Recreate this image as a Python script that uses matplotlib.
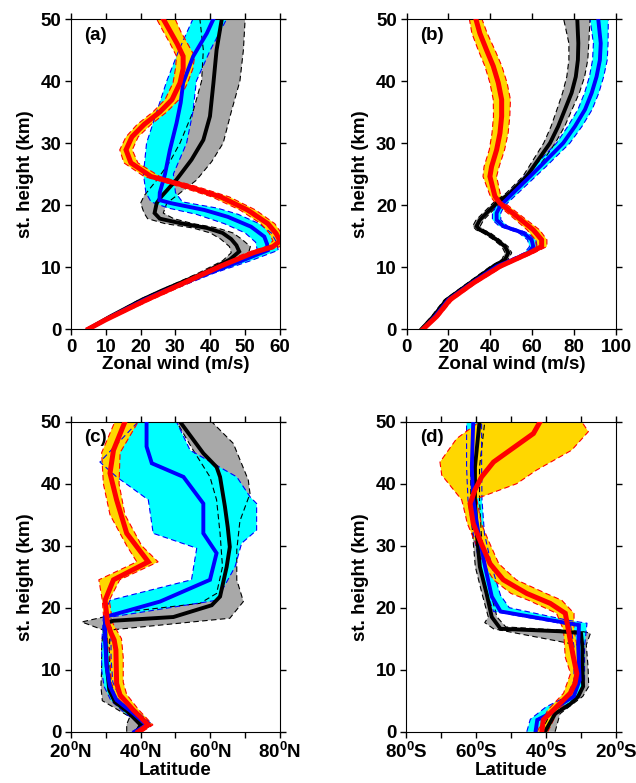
import numpy as np
import matplotlib
matplotlib.use("Agg")
import matplotlib.pyplot as plt

plt.rcParams['font.family'] = ['Liberation Sans', 'DejaVu Sans']
plt.rcParams['font.weight'] = 'bold'
plt.rcParams['mathtext.fontset'] = 'custom'
plt.rcParams['mathtext.rm'] = 'Liberation Sans:bold'
plt.rcParams['mathtext.it'] = 'Liberation Sans:bold'
plt.rcParams['mathtext.bf'] = 'Liberation Sans:bold'
plt.rcParams['mathtext.default'] = 'rm'

# ---------------- Panel (a): zonal wind (m/s) ----------------
A_H_K = [0, 2, 4.7, 6.3, 9, 11.2, 12.5, 13.5, 14.5, 15.5, 16.3, 17, 17.8, 18.7, 20.3, 21.4, 24.1, 27.3, 30.5, 34.3, 39.7, 45, 50]
A_K = [5, 11.2, 20.3, 26.5, 38, 45.6, 48.3, 47.5, 46, 43.5, 39, 32, 25.5, 24, 24.6, 26, 30.3, 34.6, 38, 39.9, 40.9, 41.8, 43.3]
A_H_KB = [0, 4.7, 9, 11, 12.3, 13.3, 14.5, 15.5, 16.3, 17, 17.8, 18.7, 20.3, 21.5, 24, 27, 30, 35, 40, 45, 50]
A_K_LO = [4.5, 19.5, 36.5, 43.5, 46, 45.5, 43, 40, 35, 27, 22, 21, 20, 21, 24.6, 28.4, 31.3, 35, 37.5, 38, 37]
A_K_HI = [5.5, 21.5, 39.5, 48, 51, 51.5, 49, 46.5, 42, 35, 29.5, 26.5, 27.5, 30.3, 36, 40.4, 43.7, 46, 48.5, 49.5, 50]

A_H_B = [0, 2, 4.7, 6.3, 9, 11, 12.7, 13.7, 14.9, 16.5, 18.1, 19.2, 20.3, 20.8, 22, 25, 28.9, 33.2, 36.5, 39.7, 44, 47.7, 50]
A_B = [5, 11.5, 21, 27.5, 39.5, 49, 56.5, 56.3, 55.5, 51.7, 45, 38.3, 28.7, 25.4, 25.5, 27, 28.4, 30.3, 31.5, 32.2, 35.1, 39, 40.9]
A_H_BB = [0, 4.7, 9, 11, 12.7, 14, 15.5, 17, 18.5, 19.5, 20.5, 22, 25, 30, 35, 40, 45, 50]
A_B_LO = [4.5, 20, 38.5, 48, 53.5, 53, 50, 44, 36, 28, 23, 21.5, 20.8, 21.7, 24.6, 27.5, 31, 35]
A_B_HI = [5.5, 22, 41, 51.5, 59.5, 59, 57.5, 54, 48, 42, 32, 30, 29.4, 33.2, 35, 36, 40, 44.7]

A_H_R = [0, 1.5, 3, 4.7, 7.4, 10.1, 12.3, 13.3, 14.2, 15.4, 17, 19.2, 21.3, 23, 24.6, 26.8, 28.9, 31, 33, 35, 37, 39.7, 42, 44, 46, 48, 50]
A_R = [5, 10, 15.5, 21.7, 32.3, 42.8, 52.3, 58, 60, 58.9, 56.5, 50.7, 43, 33.5, 23, 17.2, 15.8, 17.5, 21, 25.5, 29, 31.3, 32.2, 32.2, 30.5, 28.5, 26.5]
A_R_LO = [4.5, 9.3, 14.5, 20.5, 30.8, 41, 50.5, 56, 58, 57, 54.5, 48.5, 40.5, 31, 21, 15.2, 14, 15.8, 19, 23.5, 27, 29.3, 30, 30.3, 28.5, 26.5, 24.6]
A_R_HI = [5.5, 10.8, 16.5, 23, 33.8, 44.5, 54.5, 60, 61, 60.5, 58.5, 53, 45.5, 36, 25.5, 19.2, 17.6, 19.3, 23, 27.5, 31, 33.5, 35, 35.5, 33.5, 31.5, 29.9]

# ---------------- Panel (b): zonal wind (m/s) ----------------
B_H_K = [0, 2, 4.7, 7.4, 10.1, 11.2, 12.3, 13.3, 14.4, 15.5, 16, 16.6, 17.6, 18.7, 20.3, 21.9, 24.6, 27.3, 30, 32.7, 35.4, 38.1, 40.7, 43.4, 46.1, 50]
B_K = [7.2, 12.7, 19.1, 30.2, 41.4, 47, 48.6, 47, 43, 38.2, 35, 33.4, 35, 38.2, 43, 49.4, 57.3, 62.9, 68.5, 72.4, 75.6, 78.8, 80.8, 81.8, 82, 81.5]
B_K_LO = [6.5, 11.8, 18, 29, 40, 45.5, 47, 45.5, 41.5, 36.5, 33.2, 31.6, 33.2, 36.5, 41.2, 47.5, 55.5, 60.5, 65.5, 69, 71.8, 74.5, 76.5, 77.5, 77.5, 75]
B_K_HI = [7.9, 13.6, 20.2, 31.4, 42.8, 48.5, 50.2, 48.5, 44.5, 40, 36.8, 35.2, 36.8, 40, 44.8, 51.3, 59.5, 65.5, 71, 75.5, 79, 82.5, 85, 86.5, 87, 87.6]

B_H_B = [0, 2, 4.7, 7.4, 10.1, 11.2, 12.3, 13.3, 14.4, 15.5, 16.6, 17.6, 18.7, 19.8, 20.9, 23, 26.2, 30, 32.7, 35.4, 38.1, 40.7, 43.4, 46.1, 50]
B_B = [8, 13.5, 19.9, 31, 43, 50.9, 58.1, 60.5, 59.7, 55.7, 46.2, 43, 43, 44.6, 47.8, 54.1, 63.7, 74.8, 80.4, 85.2, 88.4, 90.7, 92.3, 92.7, 91.5]
B_B_LO = [7.3, 12.6, 18.8, 29.8, 41.6, 49.2, 56.3, 58.7, 57.7, 53.6, 44.2, 41, 41, 42.6, 45.6, 51.6, 60.8, 71.6, 77, 81.8, 85, 87.3, 88.8, 89.2, 87.6]
B_B_HI = [8.7, 14.4, 21, 32.2, 44.4, 52.6, 59.9, 62.3, 61.7, 57.8, 48.2, 45, 45, 46.6, 50, 56.6, 66.6, 78, 83.8, 88.6, 91.8, 94.1, 95.8, 96.2, 96.3]

B_H_R = [0, 2, 4.7, 7.4, 10.1, 12.3, 13.3, 14.4, 16, 18.2, 20.3, 21.4, 24.6, 26.2, 28.9, 31.6, 34.3, 37, 39.7, 42.4, 45, 47.7, 50]
B_R = [8, 14.3, 20.7, 31.8, 44.6, 58.9, 64.5, 64.5, 60.5, 52.5, 44.6, 42.2, 39.8, 40.6, 43, 44.6, 45.4, 45.4, 43.8, 41.4, 38.2, 35, 33.1]
B_R_LO = [7.3, 13.3, 19.5, 30.5, 43, 56.5, 62, 61.5, 57.5, 50, 42.5, 40, 36.5, 37, 39.5, 40.8, 41.5, 41.4, 39.8, 37.4, 34.2, 31.2, 30]
B_R_HI = [8.7, 15.3, 22, 33.2, 46.2, 61, 67, 67, 63.5, 55, 47, 45, 43, 44.2, 46.8, 48.5, 49.3, 49.6, 48, 45.5, 42.2, 38.5, 36]

# ---------------- Panel (c): latitude (deg N) ----------------
C_H_K = [0, 1.1, 3.2, 4.8, 6.7, 10.5, 14.8, 17.5, 17.9, 18.5, 20.4, 21.8, 26.6, 29.8, 33, 36.3, 41.1, 42.7, 44.9, 50]
C_K = [38.9, 40, 36.3, 32.6, 31, 30.3, 29.9, 29.8, 32.2, 49.4, 60.4, 62.8, 64.7, 65.6, 65, 64.2, 62.8, 61.8, 58, 51.3]
C_H_KLO = [0, 1.2, 2.4, 5, 7.3, 10, 14, 16.4, 17.7, 18.5, 19.1, 20.7, 22.3, 26.6, 32, 37.4, 41.1, 45.4, 50]
C_K_LO = [36, 36, 36.9, 29, 28.6, 28.8, 28.8, 29.3, 23.1, 29.3, 32.2, 57, 61.8, 63.5, 62.8, 61.8, 59.9, 55.1, 50.3]
C_H_KHI = [0, 1.5, 5, 8, 12, 16.4, 18.3, 21, 24.5, 29.3, 34, 38.4, 40.6, 46.5, 50]
C_K_HI = [38, 41, 33, 31.5, 31, 31.2, 65.6, 69.5, 67.6, 67.6, 68.5, 71.4, 70.9, 66.6, 60.4]

C_H_B = [0, 1.1, 3.2, 5.1, 7.3, 10.5, 14.8, 18.5, 21, 24.5, 28.8, 32, 36.8, 41.1, 43.3, 46, 50]
C_B = [38.4, 41.7, 37.4, 33.1, 31.2, 30.2, 29.8, 29.8, 45.6, 59.9, 61.8, 58, 58, 52.3, 43.2, 41.7, 41.7]
C_H_BLO = [0, 1, 3, 5, 7.3, 10, 14, 18.5, 21.2, 24.5, 29.6, 32, 37.4, 41.1, 43.5, 50]
C_B_LO = [37.5, 40.5, 35.5, 31.5, 29.5, 28.8, 28.8, 29.3, 31.2, 54.6, 56.1, 43.6, 42.2, 33.1, 28.3, 39.3]
C_H_BHI = [0, 1.1, 3.5, 5.5, 8, 12, 16, 18.5, 21.2, 26.6, 30.4, 32.5, 36.8, 37.9, 41.1, 45.4, 50]
C_B_HI = [39.5, 43.4, 38.5, 34, 32, 31.5, 31.5, 31.5, 61.8, 67.1, 69, 73.3, 73.3, 71.4, 67.6, 54.2, 50.3]

C_H_R = [0, 1.1, 3.5, 5.9, 7.8, 10.5, 13.2, 14.8, 15.9, 17.5, 21.2, 24.5, 27.4, 32, 37.4, 41.7, 45.4, 50]
C_R = [39.3, 42.2, 37.9, 34.1, 33.1, 33, 32.9, 32.4, 31.5, 30.5, 29.8, 32.2, 42.2, 36, 33.1, 31.2, 32.2, 35.5]
C_H_RLO = [0, 1.1, 3.5, 6, 8, 12, 15, 17.5, 21.2, 24.5, 27.4, 30, 35, 40, 45, 50]
C_R_LO = [38, 41, 36.5, 32.5, 31.5, 31.2, 30.5, 29.5, 29, 28, 38.9, 36, 31.2, 29.3, 28.8, 32.6]
C_H_RHI = [0, 1.1, 3.5, 6, 8, 12, 15, 17.5, 21.2, 24.5, 27.4, 30, 35, 40, 45, 50]
C_R_HI = [40.5, 43.5, 39.5, 36, 35, 35, 34.5, 32, 31, 34, 45, 40.3, 35.5, 33.8, 34.1, 39.3]

# ---------------- Panel (d): latitude (deg, negative = S) ----------------
D_H_K = [0, 2.9, 4.5, 5.7, 7.3, 10.5, 13.7, 15.9, 16.2, 16.6, 18.5, 22.3, 26.6, 32, 37.4, 42.7, 50]
D_K = [-40.3, -37.4, -33, -30.8, -29.4, -29.6, -29.6, -30, -36, -53, -55.5, -57, -58.9, -59.8, -60.3, -60.3, -59]
D_H_KLO = [0, 2.9, 5.7, 7.3, 10.5, 14, 16.6, 17.6, 18.5, 22.3, 26.6, 32, 37.4, 42.7, 50]
D_K_LO = [-41.5, -38.7, -32.2, -30.8, -31, -31, -55, -57.5, -56.5, -58.3, -60.2, -61, -61.5, -61.5, -60.5]
D_H_KHI = [0, 2.9, 5.7, 7.3, 10.5, 14, 15.9, 16.2, 16.9, 18.5, 22.3, 26.6, 32, 37.4, 42.7, 50]
D_K_HI = [-37.4, -36, -29.5, -27.8, -28, -28.5, -27.3, -30, -51.5, -54, -55.8, -57.6, -58.5, -59, -59, -57.5]

D_H_B = [0, 1.9, 2.9, 4, 5.7, 8.3, 13.7, 17.2, 19.4, 21.8, 26.6, 32, 37.4, 42.7, 50]
D_B = [-43, -42.5, -39, -37, -32.1, -30.4, -30.8, -30.6, -53, -55.5, -57.4, -59.3, -60.8, -61.2, -60.8]
D_H_BLO = [0, 2, 4, 5.7, 8.3, 13.7, 17.2, 19.4, 21.8, 26.6, 32, 37.4, 42.7, 50]
D_B_LO = [-45.5, -44.5, -40, -34, -32, -32, -33, -55, -56.5, -58.8, -60.8, -62.3, -62.7, -62.7]
D_H_BHI = [0, 2, 4, 5.7, 8.3, 13.7, 17.5, 18, 20, 22, 26.6, 32, 37.4, 42.7, 50]
D_B_HI = [-41, -40.5, -35, -30.5, -29, -29, -28.3, -34, -50.5, -53, -55.5, -57.6, -58.3, -58.4, -58.4]

D_H_R = [0, 1.9, 3.5, 6.2, 7.8, 9.4, 12.1, 14.8, 16.4, 19.1, 20.7, 22.3, 24.5, 27.1, 30.9, 33.6, 36.8, 39, 41.1, 43.5, 45.4, 48.1, 50]
D_R = [-41.2, -40.8, -37.9, -33.1, -31.7, -31.2, -32.2, -33.1, -33.6, -34.5, -38.8, -45.5, -52.2, -56, -58.9, -60.8, -61.7, -60.3, -58.4, -55, -50.3, -43.6, -41.7]
D_H_RLO = [0, 3.5, 6.2, 9.4, 12, 16.4, 19.1, 21.2, 22.3, 24.5, 27.1, 30.9, 33.6, 36.3, 37.4, 41.4, 43.5, 47.3, 50]
D_R_LO = [-42.5, -39.5, -35, -33, -34.5, -35, -37, -45, -50, -55, -57.8, -60.5, -62.5, -63.6, -64.1, -69.8, -70.3, -65.5, -59]
D_H_RHI = [0, 3.5, 6.2, 9.4, 12, 16.4, 19.1, 21.2, 22.3, 24.5, 27.1, 30.9, 33.6, 37.6, 40, 42.2, 45.4, 48.4, 50]
D_R_HI = [-39.5, -36.5, -31.5, -29.8, -30.5, -32, -32, -35.5, -40, -48.5, -53.5, -56.5, -58.5, -59.8, -48.4, -42.7, -32.7, -27.9, -29.8]

Y_TICKS = [0, 10, 20, 30, 40, 50]
A_XTICKS = [0, 10, 20, 30, 40, 50, 60]
B_XTICKS = [0, 20, 40, 60, 80, 100]
C_XTICKS = [20, 30, 40, 50, 60, 70, 80]
C_XLABELS = ['20$^{0}$N', '', '40$^{0}$N', '', '60$^{0}$N', '', '80$^{0}$N']
D_XTICKS = [-80, -70, -60, -50, -40, -30, -20]
D_XLABELS = ['80$^{0}$S', '', '60$^{0}$S', '', '40$^{0}$S', '', '20$^{0}$S']

GRAY, CYAN, GOLD = '#a8a8a8', '#00ffff', '#ffd700'

fig = plt.figure(figsize=(6.36, 7.83), dpi=100)
FS = 13.5

def panel(rect, series, xlim, xticks, xlabels, xlabel, tag):
    ax = fig.add_axes(rect)
    for (h, x, hlo, lo, hhi, hi, fc, ec, lc, lw) in series:
        px = list(lo) + list(hi)[::-1]
        py = list(hlo) + list(hhi)[::-1]
        ax.fill(px, py, color=fc, lw=0, zorder=1)
    for (h, x, hlo, lo, hhi, hi, fc, ec, lc, lw) in series:
        ax.plot(lo, hlo, color=ec, lw=0.8, ls=(0, (5, 3)), zorder=2)
        ax.plot(hi, hhi, color=ec, lw=0.8, ls=(0, (5, 3)), zorder=2)
    for (h, x, hlo, lo, hhi, hi, fc, ec, lc, lw) in series:
        ax.plot(x, h, color=lc, lw=lw, zorder=3, solid_joinstyle='miter')
    ax.set_xlim(*xlim)
    ax.set_ylim(0, 50)
    ax.set_xticks(xticks)
    ax.set_xticklabels(xlabels, fontsize=FS, fontweight='bold')
    ax.set_yticks(Y_TICKS)
    ax.set_yticklabels([str(v) for v in Y_TICKS], fontsize=FS, fontweight='bold')
    ax.tick_params(direction='out', length=4, width=1, top=True, right=True, pad=3)
    ax.set_xlabel(xlabel, fontsize=FS, fontweight='bold', labelpad=0)
    ax.set_ylabel('st. height (km)', fontsize=FS, fontweight='bold', labelpad=5)
    ax.text(0.065, 0.975, tag, transform=ax.transAxes, fontsize=FS, fontweight='bold',
            va='top', ha='left', zorder=5)
    return ax

def trio(hk, k, hklo, klo, hkhi, khi, hb, b, hblo, blo, hbhi, bhi, hr, r, hrlo, rlo, hrhi, rhi):
    return [
        (hk, k, hklo, klo, hkhi, khi, GRAY, 'black', 'black', 2.8),
        (hb, b, hblo, blo, hbhi, bhi, CYAN, 'blue', 'blue', 2.8),
        (hr, r, hrlo, rlo, hrhi, rhi, GOLD, 'red', 'red', 3.6),
    ]

panel([0.1116, 0.5798, 0.3286, 0.3959],
      trio(A_H_K, A_K, A_H_KB, A_K_LO, A_H_KB, A_K_HI,
           A_H_B, A_B, A_H_BB, A_B_LO, A_H_BB, A_B_HI,
           A_H_R, A_R, A_H_R, A_R_LO, A_H_R, A_R_HI),
      (0, 60), A_XTICKS, [str(v) for v in A_XTICKS], 'Zonal wind (m/s)', '(a)')

panel([0.6392, 0.5798, 0.3294, 0.3959],
      trio(B_H_K, B_K, B_H_K, B_K_LO, B_H_K, B_K_HI,
           B_H_B, B_B, B_H_B, B_B_LO, B_H_B, B_B_HI,
           B_H_R, B_R, B_H_R, B_R_LO, B_H_R, B_R_HI),
      (0, 100), B_XTICKS, [str(v) for v in B_XTICKS], 'Zonal wind (m/s)', '(b)')

panel([0.1116, 0.0655, 0.3286, 0.3959],
      trio(C_H_K, C_K, C_H_KLO, C_K_LO, C_H_KHI, C_K_HI,
           C_H_B, C_B, C_H_BLO, C_B_LO, C_H_BHI, C_B_HI,
           C_H_R, C_R, C_H_RLO, C_R_LO, C_H_RHI, C_R_HI),
      (20, 80), C_XTICKS, C_XLABELS, 'Latitude', '(c)')

panel([0.6384, 0.0655, 0.3302, 0.3959],
      trio(D_H_K, D_K, D_H_KLO, D_K_LO, D_H_KHI, D_K_HI,
           D_H_B, D_B, D_H_BLO, D_B_LO, D_H_BHI, D_B_HI,
           D_H_R, D_R, D_H_RLO, D_R_LO, D_H_RHI, D_R_HI),
      (-80, -20), D_XTICKS, D_XLABELS, 'Latitude', '(d)')

fig.savefig('out.png', dpi=100)
